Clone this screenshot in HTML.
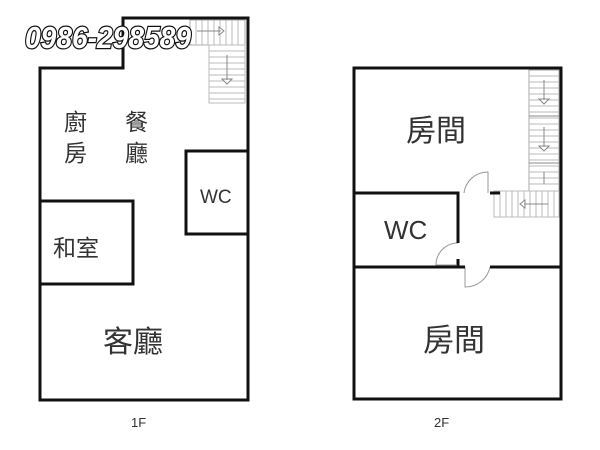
<!DOCTYPE html>
<html><head><meta charset="utf-8"><style>
html,body{margin:0;padding:0;background:#fff;width:600px;height:450px;overflow:hidden}
svg{display:block}
.t{font-family:"Liberation Sans","Noto Sans CJK TC",sans-serif;fill:#333}
</style></head><body>
<svg width="600" height="450" viewBox="0 0 600 450" xmlns="http://www.w3.org/2000/svg">
<g fill="none" stroke="#aaa" stroke-width="1">
  <rect x="190" y="20" width="55" height="25"/>
  <g stroke="#bbb">
    <path d="M196 20v25M202 20v25M208 20v25M214 20v25M220 20v25M226 20v25M232 20v25M238 20v25"/>
    <rect x="209" y="45" width="36" height="58"/>
    <path d="M209 51h36M209 57h36M209 63h36M209 69h36M209 75h36M209 81h36M209 87h36M209 93h36M209 99h36"/>
  </g>
  <path d="M197 31h24M219 27l5 4-5 4z" stroke="#888" fill="#fff"/>
  <path d="M227 55v25M222 79l5 5 5-5z" stroke="#888" fill="#fff"/>
  <rect x="529" y="70" width="30" height="121"/>
  <g stroke="#bbb">
    <path d="M529 76h30M529 82h30M529 88h30M529 94h30M529 100h30M529 106h30M529 112h30M529 118h30M529 124h30M529 130h30M529 136h30M529 142h30M529 148h30M529 154h30M529 160h30M529 166h30M529 172h30M529 178h30M529 184h30"/>
    <rect x="494" y="191" width="65" height="26"/>
    <path d="M500 191v26M506 191v26M512 191v26M518 191v26M524 191v26M530 191v26M536 191v26M542 191v26M548 191v26M554 191v26"/>
  </g>
  <path d="M529 116h30M529 163h30" stroke="#888"/>
  <path d="M544 80v20M539 99l5 5 5-5zM544 127v20M539 146l5 5 5-5zM544 172v12M548 204h-24M525 200l-5 4 5 4z" stroke="#888" fill="#fff"/>
  <path d="M488 193v-21a24 24 0 0 0 -24 21" stroke="#999"/>
  <path d="M458 243h-2a22 22 0 0 0 -20 22h20" stroke="#999"/>
  <path d="M465 267v20a25 25 0 0 0 25 -20" stroke="#999"/>
</g>
<g fill="none" stroke="#111" stroke-width="3">
  <path d="M40 400V68h83V18h125v382z"/>
  <path d="M248 151h-62v83h62"/>
  <path d="M40 201h93v83H40"/>
  <rect x="354" y="68" width="207" height="331"/>
  <path d="M354 193h104v50M458 259v8M354 267h111M490 267h71M490 193h10"/>
</g>
<text x="25" y="48" font-family="Liberation Sans,sans-serif" font-size="31" font-weight="bold" font-style="italic" fill="#fff" stroke="#111" stroke-width="2.5" paint-order="stroke" textLength="166" lengthAdjust="spacingAndGlyphs">0986-298589</text>
<g class="t">
  <text x="64" y="130" font-size="23">廚</text>
  <text x="64" y="161" font-size="23">房</text>
  <text x="125" y="130" font-size="23">餐</text>
  <text x="125" y="161" font-size="23">廳</text>
  <text x="200" y="203" font-size="19">WC</text>
  <text x="53" y="256" font-size="23">和室</text>
  <text x="103" y="352" font-size="30">客廳</text>
  <text x="131" y="427" font-size="13">1F</text>
  <text x="406" y="141" font-size="30">房間</text>
  <text x="384" y="239" font-size="26">WC</text>
  <text x="423" y="351" font-size="31">房間</text>
  <text x="434" y="427" font-size="13">2F</text>
</g>
</svg>
</body></html>
